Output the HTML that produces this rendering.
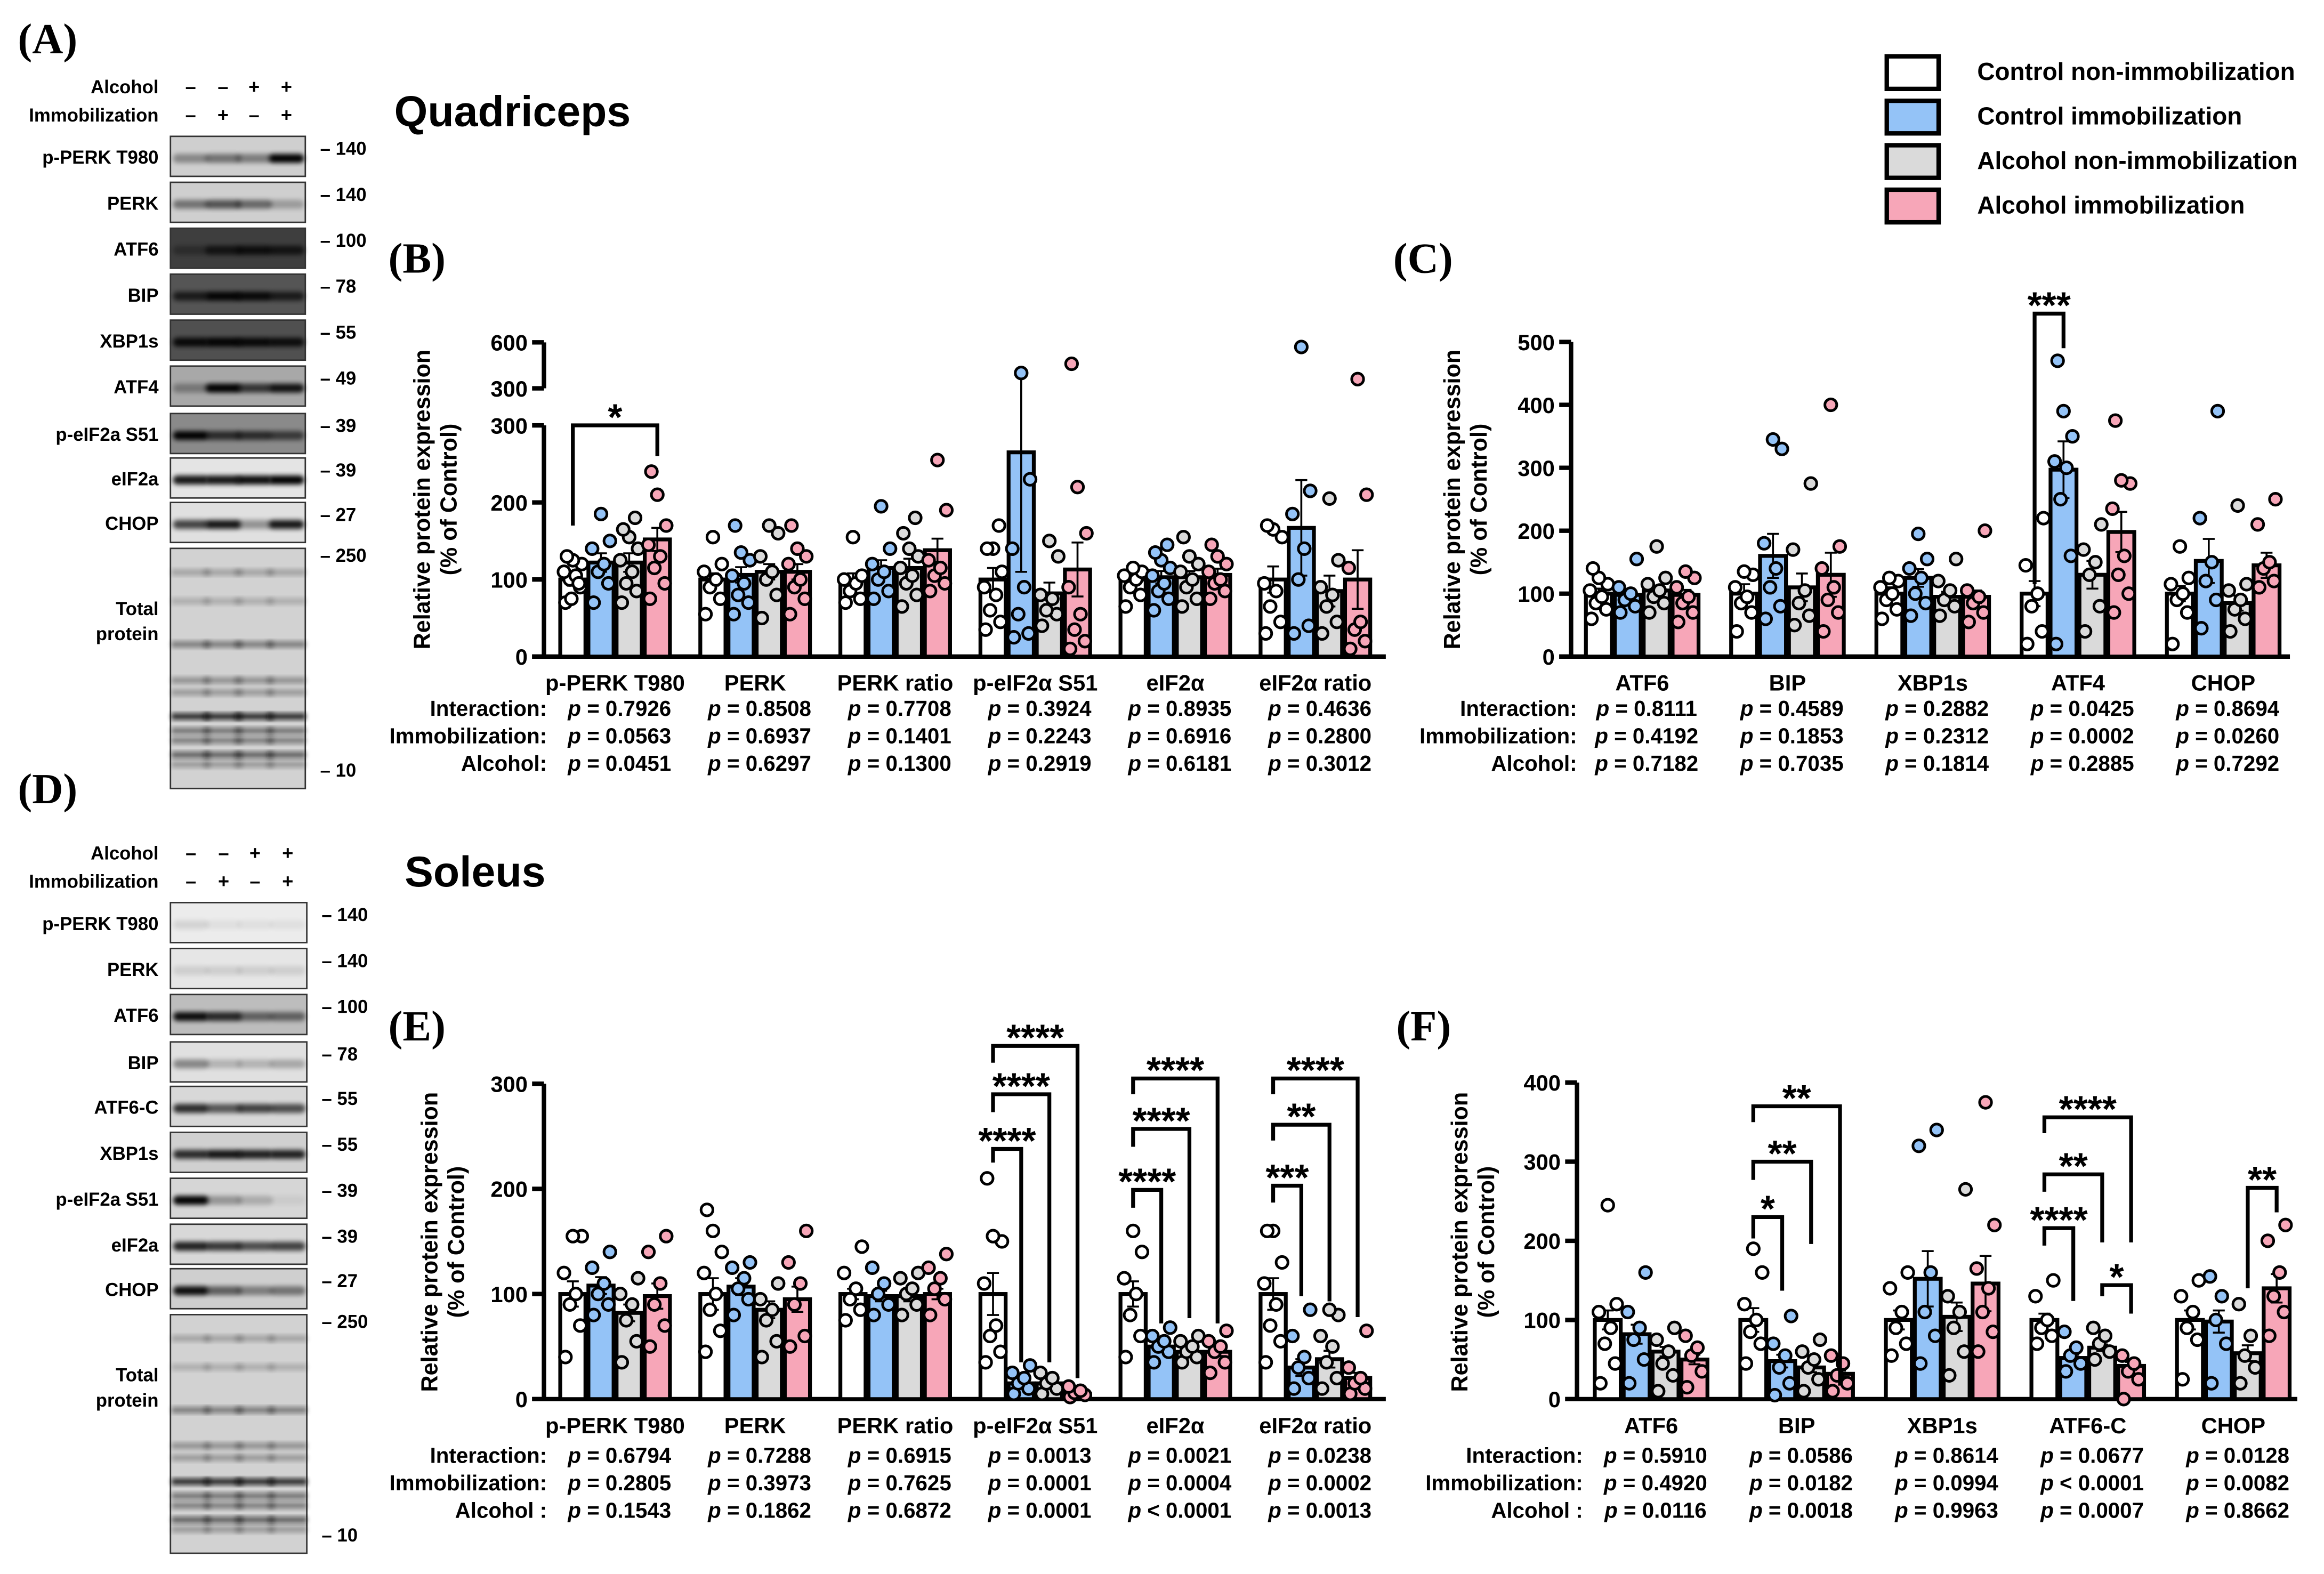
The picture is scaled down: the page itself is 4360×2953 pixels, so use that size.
<!DOCTYPE html>
<html><head><meta charset="utf-8">
<style>
html,body{margin:0;padding:0;background:#fff;}
svg{display:block;}
svg text, svg tspan{font-family:"Liberation Sans",Arial,sans-serif;font-weight:bold;}
svg text.serif{font-family:"Liberation Serif",serif;}
</style></head>
<body>
<svg id="fig" xmlns="http://www.w3.org/2000/svg" width="4360" height="2953" viewBox="0 0 1568 1062" preserveAspectRatio="none" font-family="Liberation Sans, sans-serif" font-weight="bold">
<rect x="0" y="0" width="1568" height="1062" fill="#fff"/>
<defs>
<filter id="blur" x="-20%" y="-50%" width="140%" height="200%"><feGaussianBlur stdDeviation="1.6"/></filter>
</defs>
<g id="static">
<text class="serif" x="12" y="36" font-size="29">(A)</text>
<text class="serif" x="12" y="542" font-size="29">(D)</text>
<text class="serif" x="262" y="184" font-size="29">(B)</text>
<text class="serif" x="940" y="184" font-size="29">(C)</text>
<text class="serif" x="262" y="702" font-size="29">(E)</text>
<text class="serif" x="942" y="702" font-size="29">(F)</text>
<text x="266" y="85" font-size="29">Quadriceps</text>
<text x="273" y="598" font-size="29">Soleus</text>
<g>
<g><rect x="1273" y="38" width="35" height="22" fill="#fff" stroke="#000" stroke-width="3"/><text x="1334" y="54" font-size="16.5">Control non-immobilization</text></g>
<g><rect x="1273" y="68" width="35" height="22" fill="#94c3f7" stroke="#000" stroke-width="3"/><text x="1334" y="84" font-size="16.5">Control immobilization</text></g>
<g><rect x="1273" y="98" width="35" height="22" fill="#dadada" stroke="#000" stroke-width="3"/><text x="1334" y="114" font-size="16.5">Alcohol non-immobilization</text></g>
<g><rect x="1273" y="128" width="35" height="22" fill="#f7a6b8" stroke="#000" stroke-width="3"/><text x="1334" y="144" font-size="16.5">Alcohol immobilization</text></g>
</g>
</g>
<g id="blots"></g>
<g id="charts"></g>
</svg>
<script>
// ---------- chart data ----------
const COLORS=['#ffffff','#94c3f7','#dadada','#f7a6b8'];
// Panel B
const catsB=['p-PERK T980','PERK','PERK ratio','p-eIF2\u03b1 S51','eIF2\u03b1','eIF2\u03b1 ratio'];
const meanB=[[100,122,122,152],[100,106,110,110],[100,115,115,138],[100,265,82,113],[100,103,103,106],[100,167,85,100]];
const semB=[[8,12,12,15],[8,10,10,10],[8,10,12,15],[15,155,14,35],[6,8,8,8],[17,62,20,38]];
const ptsB=[
[[70,90,100,105,110,120,125,130,95,75],[70,95,110,120,140,150,185],[70,85,95,110,125,140,155,165,180],[75,95,115,130,145,170,210,240]],
[[55,75,90,100,110,120,155],[55,70,80,95,105,125,135,170],[50,80,100,110,130,160,170],[55,75,90,100,120,130,140,170]],
[[70,75,85,95,100,105,155],[75,85,100,110,120,140,195],[65,80,95,105,115,130,140,160,180],[85,95,105,115,125,190,255]],
[[35,45,60,80,90,110,140,140,170],[25,30,55,90,140,230,400],[40,55,60,75,80,130,150],[10,20,35,55,90,160,220,460]],
[[65,80,90,100,105,110,115],[60,75,85,95,105,115,125,135,145],[65,75,90,100,110,120,130,155],[75,85,95,100,110,120,130,145]],
[[30,45,65,85,95,155,165,170],[30,40,100,140,185,215,570],[30,45,65,80,90,125,205],[10,20,35,45,115,210,360]]];
const sigB=[[0,0,3,300,170,260,'*']];
const pB=[['0.7926','0.8508','0.7708','0.3924','0.8935','0.4636'],['0.0563','0.6937','0.1401','0.2243','0.6916','0.2800'],['0.0451','0.6297','0.1300','0.2919','0.6181','0.3012']];
// Panel C
const catsC=['ATF6','BIP','XBP1s','ATF4','CHOP'];
const meanC=[[100,98,105,98],[100,160,110,130],[100,125,95,95],[100,297,130,198],[100,152,85,145]];
const semC=[[8,6,8,8],[15,35,22,35],[10,14,8,10],[20,45,22,32],[12,35,12,20]];
const ptsC=[
[[60,75,85,95,105,115,125,140],[70,80,90,100,110,155],[70,85,95,105,115,125,175],[55,70,85,95,110,125,135]],
[[40,70,85,95,110,130,135],[60,80,110,140,180,330,345],[50,65,85,105,170,275],[40,70,90,110,140,175,400]],
[[60,75,90,100,110,120,125],[65,85,100,125,140,155,195],[65,80,90,105,120,155],[55,70,85,95,105,200]],
[[20,40,80,100,145,220],[20,160,250,300,310,350,390,470],[40,80,130,150,170,210],[70,100,130,160,235,275,280,375]],
[[20,70,90,100,115,125,175],[45,90,120,150,220,390],[40,60,75,90,105,115,240],[110,120,140,150,210,250]]];
const sigC=[[3,0,1,545,115,490,'***']];
const pC=[['0.8111','0.4589','0.2882','0.0425','0.8694'],['0.4192','0.1853','0.2312','0.0002','0.0260'],['0.7182','0.7035','0.1814','0.2885','0.7292']];
// Panel E
const catsE=catsB;
const meanE=[[100,108,82,98],[100,107,85,95],[100,98,98,100],[100,15,15,5],[100,50,45,45],[100,30,38,20]];
const semE=[[12,8,8,12],[15,8,8,12],[5,5,5,5],[20,3,3,2],[12,3,3,4],[15,8,8,5]];
const ptsE=[
[[40,70,90,100,120,155,155],[80,90,100,110,125,140],[35,55,75,90,100,115],[50,70,90,110,140,155]],
[[45,65,85,100,120,140,160,180],[80,95,105,115,125,130],[40,55,75,85,95,110],[50,60,90,110,130,160]],
[[75,85,95,105,120,145],[80,90,100,110,125],[80,90,100,105,115,120],[80,95,105,115,125,138]],
[[35,45,60,70,110,150,155,210],[5,10,15,20,25,32],[5,10,15,20,25],[2,4,6,8,12]],
[[40,60,80,100,115,140,160],[35,45,50,55,60,68],[35,40,45,50,55,60],[25,35,45,50,55,65]],
[[35,55,70,90,110,130,160,160],[10,20,30,40,60,85],[10,20,35,50,60,80,85],[5,10,15,20,30,65]]];
const sigE=[
[3,0,1,238,225,35,'****'],[3,0,2,290,273,35,'****'],[3,0,3,336,320,20,'****'],
[4,0,1,199,182,72,'****'],[4,0,2,257,240,77,'****'],[4,0,3,305,290,72,'****'],
[5,0,1,203,187,98,'***'],[5,0,2,261,246,93,'**'],[5,0,3,305,290,78,'****']];
const pE=[['0.6794','0.7288','0.6915','0.0013','0.0021','0.0238'],['0.2805','0.3973','0.7625','0.0001','0.0004','0.0002'],['0.1543','0.1862','0.6872','0.0001','< 0.0001','0.0013']];
// Panel F
const catsF=['ATF6','BIP','XBP1s','ATF6-C','CHOP'];
const meanF=[[100,82,60,50],[100,48,40,32],[100,152,104,146],[100,52,65,42],[100,98,58,140]];
const semF=[[12,12,6,6],[15,8,6,4],[12,35,18,35],[8,4,4,5],[12,14,10,18]];
const ptsF=[
[[20,45,70,90,110,120,245],[20,50,75,90,110,160],[10,30,45,60,75,90],[15,35,55,65,80]],
[[45,70,85,100,120,160,190],[5,20,40,55,70,105],[10,25,40,50,60,75],[10,20,30,45,55]],
[[55,70,90,110,140,160],[45,80,110,160,320,340],[30,60,90,110,130,265],[60,85,110,140,165,220,375]],
[[70,80,90,100,130,150],[35,45,55,65,85],[50,60,70,80,90],[0,25,35,45,55]],
[[25,75,90,110,130,150],[20,70,100,130,155],[20,40,55,80,120],[80,110,130,160,200,220]]];
const sigF=[
[1,0,1,230,203,137,'*'],[1,0,2,300,277,196,'**'],[1,0,3,370,350,17,'**'],
[3,0,1,216,194,124,'****'],[3,0,2,284,262,198,'**'],[3,0,3,356,336,198,'****'],[3,2,3,144,130,108,'*'],
[4,2,3,267,140,236,'**']];
const pF=[['0.5910','0.0586','0.8614','0.0677','0.0128'],['0.4920','0.0182','0.0994','< 0.0001','0.0082'],['0.0116','0.0018','0.9963','0.0007','0.8662']];

const NS='http://www.w3.org/2000/svg';
function mk(tag,attrs,parent){const e=document.createElementNS(NS,tag);for(const k in attrs)e.setAttribute(k,attrs[k]);if(parent)parent.appendChild(e);return e;}

function drawChart(cfg){
  const root=document.getElementById('charts');
  const g=mk('g',{},root);
  
  
  const {ax,y0,pxPer,xEnd,cx0,dx,bw}=cfg;
  function Y(v){
    if(cfg.brk&&v>cfg.brk.lo){return cfg.brk.y300-(v-cfg.brk.lo)/(cfg.brk.hi-cfg.brk.lo)*(cfg.brk.y300-cfg.brk.y600);}
    return y0-v*pxPer;
  }
  function X(ci,gi){return cx0+ci*dx+(gi-1.5)*bw;}
  const ymax=Y(cfg.ticks[cfg.ticks.length-1]);
  const yax=mk('line',{x1:ax,y1:y0+1,x2:ax,y2:ymax,stroke:'#000','stroke-width':3},g);
  
  
  const xax=mk('line',{x1:ax-8,y1:y0,x2:xEnd,y2:y0,stroke:'#000','stroke-width':3},g);
  
  
  cfg.ticks.forEach(t=>{
    mk('line',{x1:ax-8,y1:Y(t),x2:ax,y2:Y(t),stroke:'#000','stroke-width':3},g);
    const tl=mk('text',{x:ax-11,y:Y(t)+5.5,'font-size':15,'text-anchor':'end'},g);
    tl.textContent=t;
    
    
  });
  if(cfg.brk){
    const b=cfg.brk;
    mk('line',{x1:ax,y1:b.y300,x2:ax,y2:b.y600,stroke:'#000','stroke-width':3},g);
    [[b.lo,b.y300],[b.hi,b.y600]].forEach(([v,y])=>{
      mk('line',{x1:ax-8,y1:y,x2:ax,y2:y,stroke:'#000','stroke-width':3},g);
      const tl=mk('text',{x:ax-11,y:y+5.5,'font-size':15,'text-anchor':'end'},g);
      tl.textContent=v;
      
      
    });
  }
  const tg=mk('g',{transform:`translate(${cfg.titleX},${cfg.titleY}) rotate(-90)`},g);
  
  
  const t1=mk('text',{x:0,y:0,'font-size':15.5,'text-anchor':'middle'},tg);t1.textContent='Relative protein expression';
  const t2=mk('text',{x:0,y:18,'font-size':15.5,'text-anchor':'middle'},tg);t2.textContent='(% of Control)';
  const jit=[-5,5,-2,2,-6,6,0,-4,4,-1];
  cfg.cats.forEach((c,ci)=>{
    for(let gi=0;gi<4;gi++){
      const x=X(ci,gi),m=cfg.mean[ci][gi],s=cfg.sem[ci][gi];
      const bar=mk('rect',{x:x-bw/2+1,y:Y(m),width:bw-2,height:y0-Y(m),fill:COLORS[gi],stroke:'#000','stroke-width':2.6},g);
      
      
      const eb=mk('path',{d:`M${x},${Y(m-s)}V${Y(m+s)}M${x-4},${Y(m+s)}H${x+4}M${x-4},${Y(m-s)}H${x+4}`,stroke:'#000','stroke-width':1.3,fill:'none'},g);
      
      
      cfg.pts[ci][gi].forEach((v,k)=>{
        const pt=mk('circle',{cx:x+jit[k%jit.length],cy:Y(v),r:4,fill:COLORS[gi],stroke:'#000','stroke-width':1.8},g);
        
        
      });
    }
    const cl=mk('text',{x:cx0+ci*dx,y:y0+23,'font-size':15,'text-anchor':'middle'},g);
    cl.textContent=c;
    
    
  });
  cfg.sig.forEach(([ci,a,b,top,lb,rb,lab])=>{
    const xa=X(ci,a),xb=X(ci,b);
    const br=mk('path',{d:`M${xa},${Y(lb)}V${Y(top)}H${xb}V${Y(rb)}`,stroke:'#000','stroke-width':2.6,fill:'none'},g);
    
    
    const st=mk('text',{x:(xa+xb)/2,y:Y(top)+3,'font-size':25,'text-anchor':'middle'},g);
    st.textContent=lab;
    
    
  });
  cfg.rowNames.forEach((rn,ri)=>{
    const yy=cfg.pY+ri*18.5;
    const rl=mk('text',{x:cfg.pLabelX,y:yy,'font-size':14.5,'text-anchor':'end'},g);
    rl.textContent=rn;
    
    
    cfg.cats.forEach((c,ci)=>{
      const v=cfg.p[ri][ci];
      const pt=mk('text',{x:cx0+ci*dx+3,y:yy,'font-size':14.5,'text-anchor':'middle'},g);
      
      
      const ts=mk('tspan',{'font-style':'italic'},pt);ts.textContent='p';
      const ts2=mk('tspan',{},pt);ts2.textContent=(v[0]==='<'?' ':' = ')+v;
    });
  });
}
drawChart({name:'chart-b',cats:catsB,mean:meanB,sem:semB,pts:ptsB,sig:sigB,p:pB,ax:367,y0:443,pxPer:0.52,xEnd:935,cx0:415,dx:94.5,bw:19,ticks:[0,100,200,300],brk:{lo:300,hi:600,y300:262,y600:231},titleX:290,titleY:337,pY:483,pLabelX:369,rowNames:['Interaction:','Immobilization:','Alcohol:']});
drawChart({name:'chart-c',cats:catsC,mean:meanC,sem:semC,pts:ptsC,sig:sigC,p:pC,ax:1060,y0:443,pxPer:0.4246,xEnd:1545,cx0:1108,dx:98,bw:19.5,ticks:[0,100,200,300,400,500],titleX:985,titleY:337,pY:483,pLabelX:1064,rowNames:['Interaction:','Immobilization:','Alcohol:']});
drawChart({name:'chart-e',cats:catsE,mean:meanE,sem:semE,pts:ptsE,sig:sigE,p:pE,ax:367,y0:944,pxPer:0.7093,xEnd:935,cx0:415,dx:94.5,bw:19,ticks:[0,100,200,300],titleX:295,titleY:838,pY:987,pLabelX:369,rowNames:['Interaction:','Immobilization:','Alcohol :']});
drawChart({name:'chart-f',cats:catsF,mean:meanF,sem:semF,pts:ptsF,sig:sigF,p:pF,ax:1064,y0:944,pxPer:0.534,xEnd:1550,cx0:1114,dx:98.2,bw:19.5,ticks:[0,100,200,300,400],titleX:990,titleY:838,pY:987,pLabelX:1068,rowNames:['Interaction:','Immobilization:','Alcohol :']});

// ---------- western blots ----------
const blotA={rows:['p-PERK T980','PERK','ATF6','BIP','XBP1s','ATF4','p-eIF2a S51','eIF2a','CHOP'],
 mw:['140','140','100','78','55','49','39','39','27'],
 ys:[92,123,154,185,216,247,279,309,339],
 bg:['#cfcfcf','#cfcfcf','#3e3e3e','#555','#505050','#a8a8a8','#8a8a8a','#e4e4e4','#e0e0e0'],
 band:[[0.35,0.45,0.4,1],[0.45,0.6,0.5,0.25],[0.3,0.7,0.8,0.7],[0.7,0.95,0.9,0.7],[0.9,0.95,0.9,0.85],[0.3,1,0.7,0.9],[1,0.7,0.7,0.6],[0.9,0.9,0.95,1],[0.7,0.9,0.35,0.9]]};
const blotD={rows:['p-PERK T980','PERK','ATF6','BIP','ATF6-C','XBP1s','p-eIF2a S51','eIF2a','CHOP'],
 mw:['140','140','100','78','55','55','39','39','27'],
 ys:[609,640,671,703,733,764,795,826,856],
 bg:['#ececec','#e6e6e6','#bdbdbd','#e0e0e0','#d8d8d8','#d0d0d0','#d6d6d6','#d8d8d8','#cfcfcf'],
 band:[[0.1,0.05,0.05,0.05],[0.1,0.1,0.1,0.1],[0.95,0.8,0.5,0.5],[0.4,0.2,0.2,0.25],[0.8,0.6,0.7,0.65],[0.8,0.9,0.85,0.85],[1,0.3,0.2,0.05],[0.85,0.75,0.65,0.7],[0.95,0.55,0.4,0.45]]};
function drawBlot(B,yA,totY,totH,name,x0,w){
  const root=document.getElementById('blots');
  const g=mk('g',{},root);
  
  
  const lanes=[0.15,0.39,0.62,0.86].map(f=>x0+f*w);
  const a=mk('text',{x:107,y:yA,'font-size':12.5,'text-anchor':'end'},g);a.textContent='Alcohol';
  const im=mk('text',{x:107,y:yA+19,'font-size':12.5,'text-anchor':'end'},g);im.textContent='Immobilization';
  const alc=['\u2013','\u2013','+','+'],imm=['\u2013','+','\u2013','+'];
  lanes.forEach((lx,i)=>{
    const t=mk('text',{x:lx,y:yA,'font-size':13,'text-anchor':'middle'},g);t.textContent=alc[i];
    const t2=mk('text',{x:lx,y:yA+19,'font-size':13,'text-anchor':'middle'},g);t2.textContent=imm[i];
  });
  B.rows.forEach((r,i)=>{
    const y=B.ys[i],h=27;
    const strip=mk('g',{},g);
    
    
    mk('rect',{x:x0,y:y,width:w,height:h,fill:B.bg[i],stroke:'#333','stroke-width':1},strip);
    lanes.forEach((lx,li)=>{
      const v=B.band[i][li];
      mk('rect',{x:lx-12,y:y+h*0.55-3,width:24,height:6,rx:3,fill:'#000',opacity:v,filter:'url(#blur)'},strip);
    });
    const lt=mk('text',{x:107,y:y+h/2+5,'font-size':12.5,'text-anchor':'end'},g);lt.textContent=r;
    const mt=mk('text',{x:x0+w+10,y:y+h/2-1,'font-size':12.5},g);mt.textContent='\u2013 '+B.mw[i];
  });
  const tot=mk('g',{},g);
  
  
  mk('rect',{x:x0,y:totY,width:w,height:totH,fill:'#d2d2d2',stroke:'#333','stroke-width':1},tot);
  const bands=[[0.1,0.25],[0.22,0.2],[0.4,0.45],[0.55,0.35],[0.6,0.3],[0.7,0.9],[0.76,0.5],[0.8,0.45],[0.86,0.6],[0.9,0.3]];
  bands.forEach(([f,o])=>lanes.forEach(lx=>mk('rect',{x:lx-13,y:totY+f*totH-2,width:26,height:4,fill:'#111',opacity:o,filter:'url(#blur)'},tot)));
  const t1=mk('text',{x:107,y:totY+45,'font-size':12.5,'text-anchor':'end'},g);t1.textContent='Total';
  const t2=mk('text',{x:107,y:totY+62,'font-size':12.5,'text-anchor':'end'},g);t2.textContent='protein';
  const m1=mk('text',{x:x0+w+10,y:totY+9,'font-size':12.5},g);m1.textContent='\u2013 250';
  const m2=mk('text',{x:x0+w+10,y:totY+totH-8,'font-size':12.5},g);m2.textContent='\u2013 10';
}
drawBlot(blotA,63,370,162,'blot-quadriceps',115,91);
drawBlot(blotD,580,887,161,'blot-soleus',115,92);
</script>
</body></html>
